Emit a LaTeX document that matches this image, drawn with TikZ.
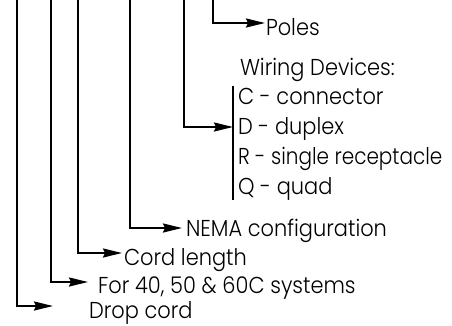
\documentclass[tikz,border=0pt]{standalone}
\usepackage{fontspec}
\setmainfont{Poppins}[UprightFont=* Light,FakeStretch=0.91]
\usetikzlibrary{arrows.meta}
\begin{document}
\begin{tikzpicture}[x=1pt,y=-1pt,line width=2pt,
  tip/.style={-{Stealth[length=19pt,width=9pt,inset=2pt]}},
  lbl/.style={anchor=base west,inner sep=0pt,font=\fontsize{23}{27}\selectfont}]
\useasboundingbox (0,0) rectangle (452,325);
% labels
\node[lbl] (poles) at (265,35) {Poles};
\node[lbl] (wd) at (239,75) {Wiring Devices:};
\node[lbl] (c) at (237,104) {C - connector};
\node[lbl] (d) at (237,134) {D - duplex};
\node[lbl] (r) at (237,164) {\addfontfeature{FakeStretch=0.87}R - single receptacle};
\node[lbl] (q) at (237,194) {Q - quad};
\node[lbl] (nema) at (185,236) {NEMA configuration};
\node[lbl] (cord) at (123,265) {Cord length};
\node[lbl] (for) at (97,293) {For 40, 50 \& 60C systems};
\node[lbl] (drop) at (88,318) {Drop cord};
% coordinates
\coordinate (t1) at (17,0);  \coordinate (e1) at (53,306);
\coordinate (t2) at (51,0);  \coordinate (e2) at (88,282);
\coordinate (t3) at (78,0);  \coordinate (e3) at (122,253);
\coordinate (t4) at (130,0); \coordinate (e4) at (182,228);
\coordinate (t5) at (184,0); \coordinate (e5) at (233,127);
\coordinate (t6) at (213,0); \coordinate (e6) at (265,23);
\coordinate (bt) at (233,86); \coordinate (bb) at (233,200);
% connectors
\draw[tip] (t1) |- (e1);
\draw[tip] (t2) |- (e2);
\draw[tip] (t3) |- (e3);
\draw[tip] (t4) |- (e4);
\draw[tip] (t5) |- (e5);
\draw[tip] (t6) |- (e6);
\draw (bt) -- (bb);
\end{tikzpicture}
\end{document}
